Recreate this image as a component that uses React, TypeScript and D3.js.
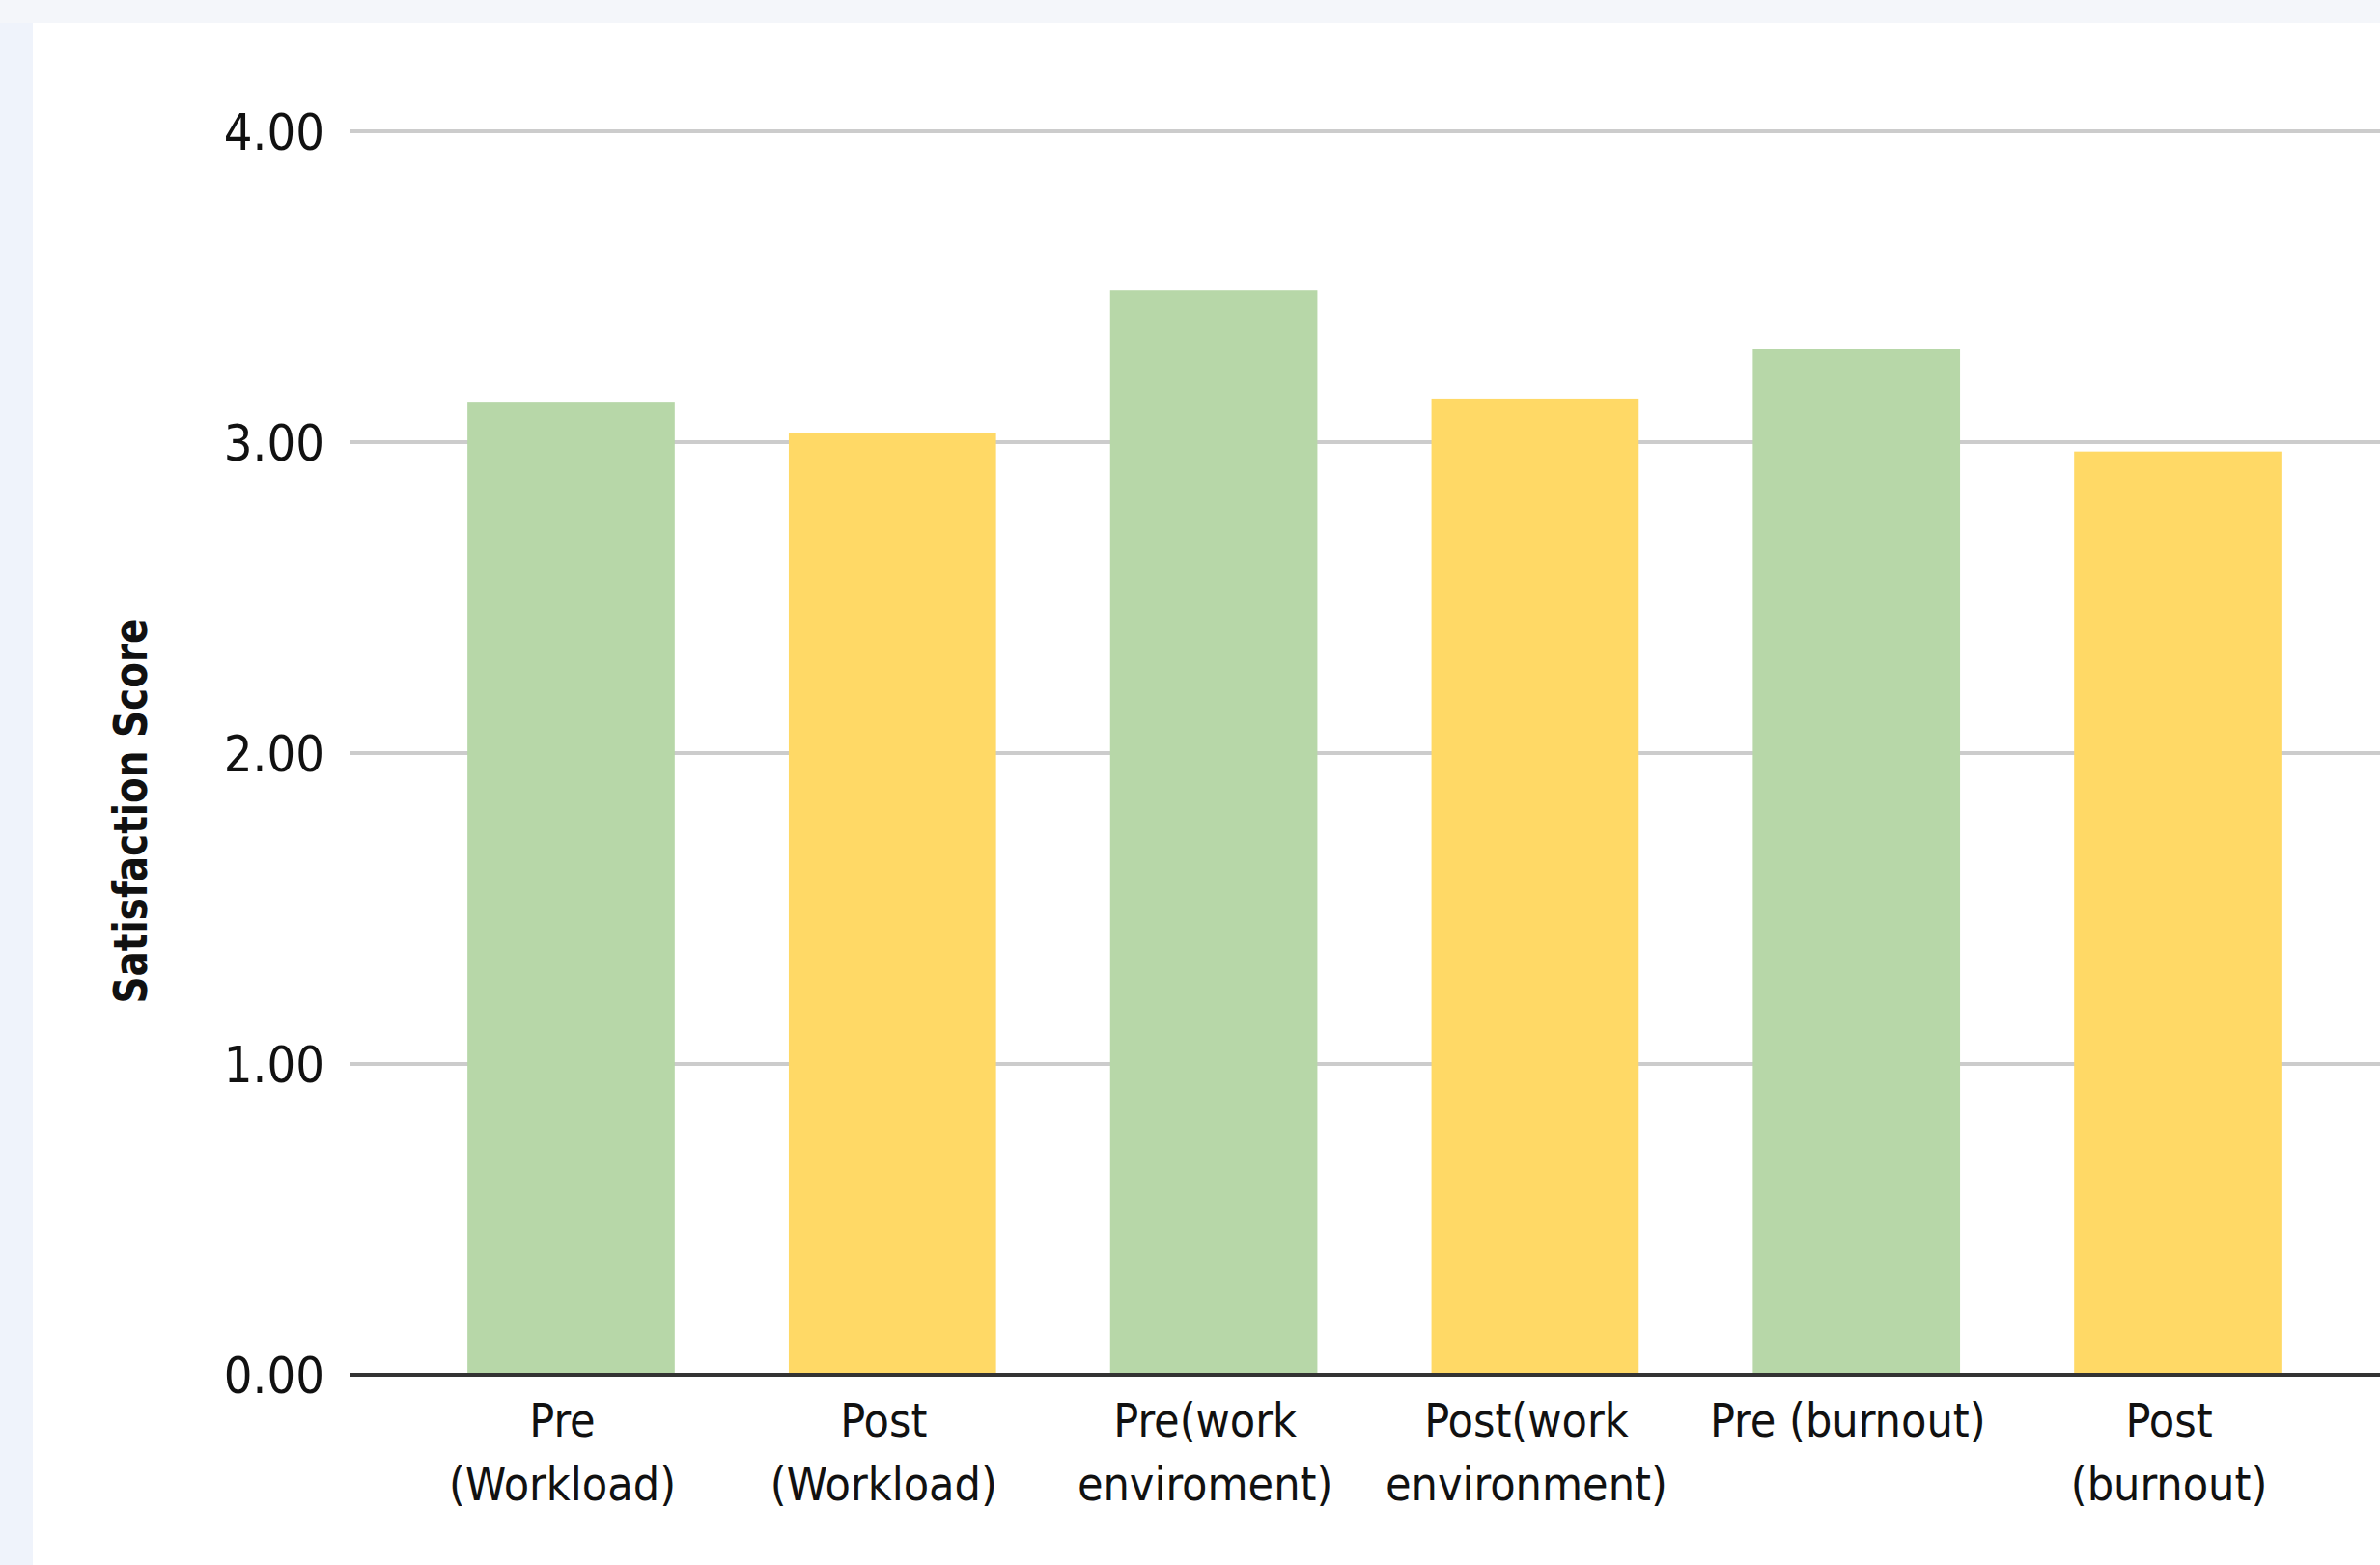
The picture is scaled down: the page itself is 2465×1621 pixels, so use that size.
import React from "react";
import * as d3 from "d3";

const categories: string[][] = [
  ["Pre", "(Workload)"],
  ["Post", "(Workload)"],
  ["Pre(work", "enviroment)"],
  ["Post(work", "environment)"],
  ["Pre (burnout)"],
  ["Post", "(burnout)"],
];
const categoryKeys: string[] = categories.map((c) => c.join(" "));
const scores: number[] = [3.13, 3.03, 3.49, 3.14, 3.3, 2.97];
const barColors: string[] = ["#b7d7a8", "#ffd966", "#b7d7a8", "#ffd966", "#b7d7a8", "#ffd966"];
const yTicks: number[] = [0, 1, 2, 3, 4];
const yTitle = "Satisfaction Score";

const W = 2465;
const H = 1621;
const FONT = "'DejaVu Sans Condensed', 'DejaVu Sans', sans-serif";

export default function App() {
  const plotLeft = 362;
  const plotRight = W;
  const y = d3.scaleLinear().domain([0, 4]).range([1424, 136]);
  const x = d3
    .scaleBand<string>()
    .domain(categoryKeys)
    .range([plotLeft, 2485])
    .paddingInner(0.355)
    .paddingOuter(0.367);

  return (
    <svg
      width={W}
      height={H}
      style={{ position: "absolute", left: 0, top: 0, display: "block" }}
      xmlns="http://www.w3.org/2000/svg"
    >
      <rect x={0} y={0} width={W} height={H} fill="#f4f6fa" />
      <rect x={0} y={24} width={34} height={H - 24} fill="#eff3fb" />
      <rect x={34} y={24} width={W - 34} height={H - 24} fill="#ffffff" />

      {/* gridlines */}
      {yTicks
        .filter((t) => t !== 0)
        .map((t) => (
          <line
            key={"g" + t}
            x1={plotLeft}
            x2={plotRight}
            y1={y(t)}
            y2={y(t)}
            stroke="#cccccc"
            strokeWidth={4}
          />
        ))}

      {/* bars */}
      {categoryKeys.map((k, i) => (
        <rect
          key={k}
          x={x(k)!}
          y={y(scores[i])}
          width={x.bandwidth()}
          height={y(0) - y(scores[i])}
          fill={barColors[i]}
        />
      ))}

      {/* baseline */}
      <line x1={plotLeft} x2={plotRight} y1={y(0)} y2={y(0)} stroke="#333333" strokeWidth={4} />

      {/* y tick labels */}
      {yTicks.map((t) => (
        <text
          key={"t" + t}
          x={336}
          y={y(t)}
          dy="0.36em"
          textAnchor="end"
          fontFamily={FONT}
          fontStretch="condensed"
          fontSize={52}
          fill="#111111"
        >
          {d3.format(".2f")(t)}
        </text>
      ))}

      {/* x labels */}
      {categories.map((lines, i) => {
        const cx = x(categoryKeys[i])! + x.bandwidth() / 2 - 9;
        return (
          <text
            key={"x" + i}
            textAnchor="middle"
            fontFamily={FONT}
            fontStretch="condensed"
            fontSize={48}
            fill="#111111"
          >
            {lines.map((ln, j) => (
              <tspan key={j} x={cx} y={1488 + j * 66}>
                {ln}
              </tspan>
            ))}
          </text>
        );
      })}

      {/* y axis title */}
      <text
        transform="translate(152, 840) rotate(-90)"
        textAnchor="middle"
        fontFamily={FONT}
        fontStretch="condensed"
        fontWeight="bold"
        fontSize={48}
        textLength={399}
        lengthAdjust="spacingAndGlyphs"
        fill="#111111"
      >
        {yTitle}
      </text>
    </svg>
  );
}
